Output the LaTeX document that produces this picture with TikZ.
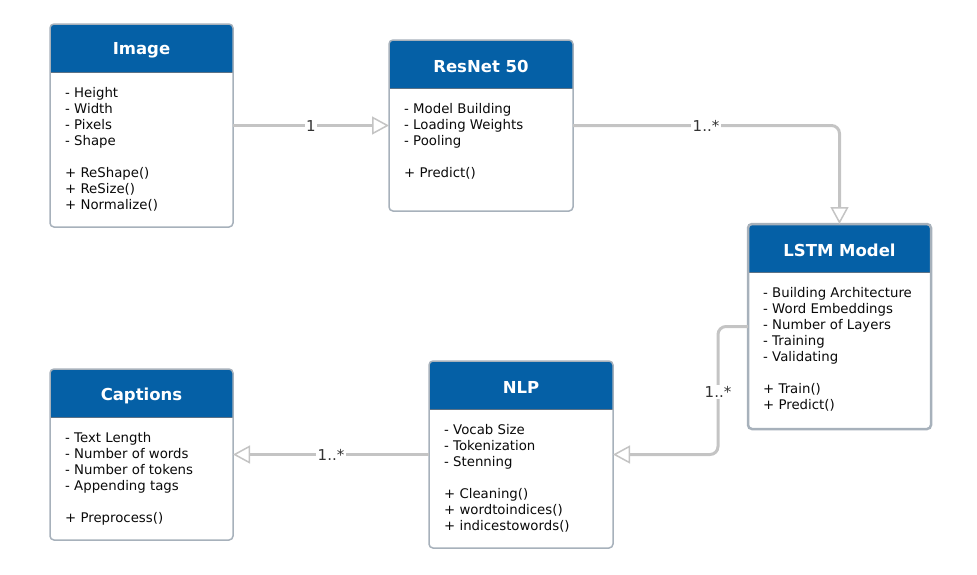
\documentclass[tikz,border=0pt]{standalone}
\usepackage{fontspec}
\setmainfont{DejaVu Sans}
\usetikzlibrary{arrows.meta,calc}
\definecolor{hdr}{HTML}{0560A6}
\definecolor{bordc}{HTML}{A7B1BB}
\definecolor{sepc}{HTML}{5C7286}
\definecolor{linec}{HTML}{C4C4C4}
\definecolor{txt}{HTML}{0A0A0A}
\definecolor{multc}{HTML}{333333}
\tikzset{
  box/.style={draw=bordc, line width=1.5pt, rounded corners=4pt, anchor=north west, inner sep=0, outer sep=0},
  title/.style={font=\fontsize{16.5}{19}\selectfont\bfseries, text=white, inner sep=0},
  body/.style={font=\fontsize{13.3}{16}\selectfont, text=txt, align=left, anchor=north west, inner sep=0},
  conn/.style={draw=linec, line width=3pt},
  tip/.style={-{Triangle[fill=white, length=17pt, width=18pt, line width=1.5pt]}},
  mult/.style={fill=white, inner sep=1.5pt, font=\fontsize{15}{18}\selectfont, text=multc}
}
\newcommand\UMLbox[8][1.5pt]{%
  \fill[white, rounded corners=4pt] (#3,#4) rectangle (#5,#6);
  \fill[hdr] (#3,#4+48) [rounded corners=4pt] -- (#3,#4) -- (#5,#4) [sharp corners] -- (#5,#4+48) -- cycle;
  \draw[sepc, line width=0.8pt] (#3,#4+48) -- (#5,#4+48);
  \node[box, line width=#1, minimum width={#5-#3}, minimum height={#6-#4}] (#2) at (#3,#4) {};
  \node[title] (#2-t) at ({(#3+#5)/2}, #4+26.5) {#7};
  \node[body] (#2-b) at (#3+15, #4+62) {\rule{0pt}{11pt}#8};
}
\begin{document}
\begin{tikzpicture}[x=1pt,y=-1pt]
\useasboundingbox (0,0) rectangle (977,574);

\UMLbox{img}{50}{24}{233}{227}{Image}{- Height\\- Width\\- Pixels\\- Shape\\[16pt]+ ReShape()\\+ ReSize()\\+ Normalize()}
\UMLbox{resnet}{389}{40}{573}{211}{ResNet 50}{- Model Building\\- Loading Weights\\- Pooling\\[16pt]+ Predict()}
\UMLbox[2.5pt]{lstm}{748}{224}{931}{429}{LSTM Model}{- Building Architecture\\- Word Embeddings\\- Number of Layers\\- Training\\- Validating\\[16pt]+ Train()\\+ Predict()}
\UMLbox{cap}{50}{369}{233}{540}{Captions}{- Text Length\\- Number of words\\- Number of tokens\\- Appending tags\\[16pt]+ Preprocess()}
\UMLbox{nlp}{429}{361}{613}{548}{NLP}{- Vocab Size\\- Tokenization\\- Stenning\\[16pt]+ Cleaning()\\+ wordtoindices()\\+ indicestowords()}

\draw[conn, tip] (img.east) -- (resnet.west);
\node[mult] (m1) at (311,126) {1};

\draw[conn, tip, rounded corners=8pt] (resnet.east) -| (lstm.north);
\node[mult] (m2) at (706,126) {1..*};

\coordinate (k3) at (718,0);
\draw[conn, tip, rounded corners=8pt] (lstm.west) -- (lstm.west -| k3) -- (nlp.east -| k3) -- (nlp.east);
\node[mult] (m3) at (718,392) {1..*};

\draw[conn, tip] (nlp.west) -- (cap.east);
\node[mult] (m4) at (331,455) {1..*};
\end{tikzpicture}
\end{document}
